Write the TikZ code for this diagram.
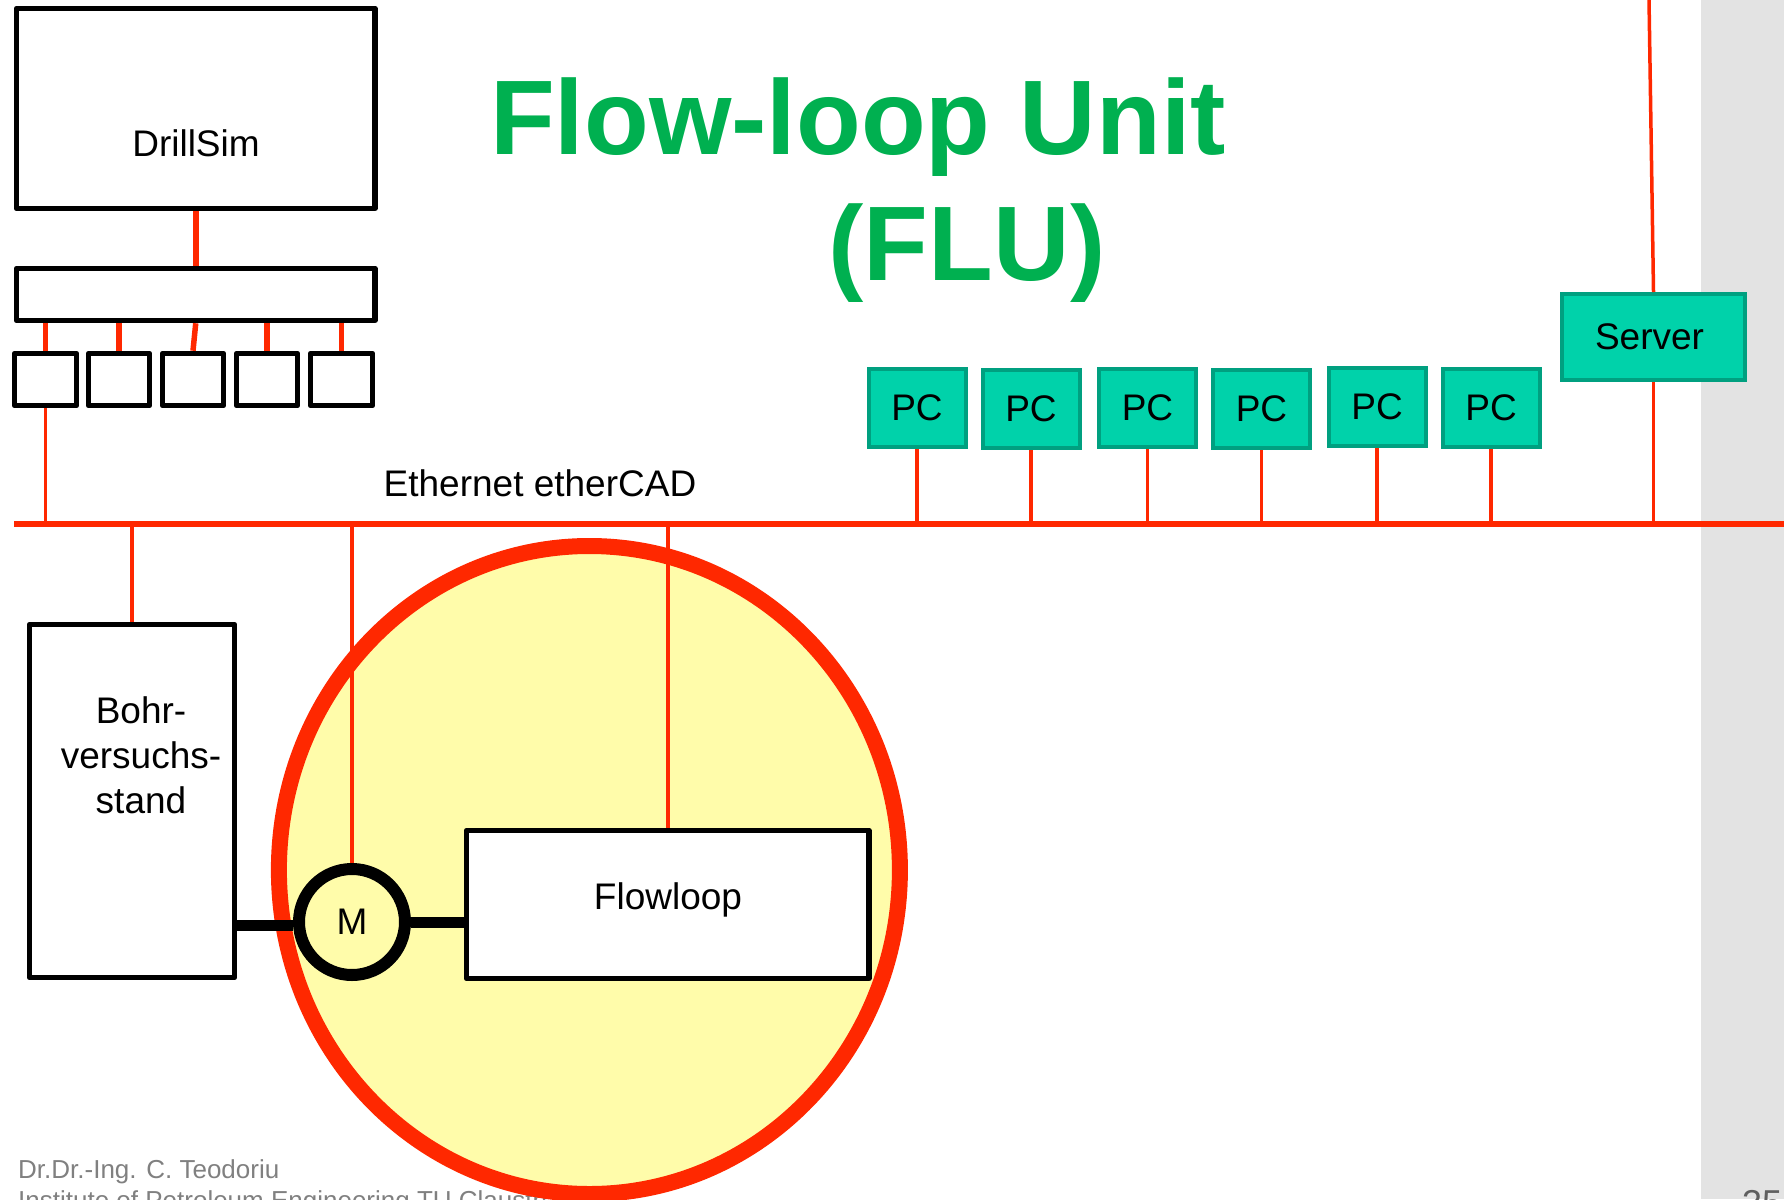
\documentclass[tikz,border=0pt]{standalone}
\usepackage{fontspec}
\setmainfont{Liberation Sans}
\definecolor{netred}{RGB}{255,40,0}
\definecolor{loopyellow}{RGB}{255,252,170}
\definecolor{pcfill}{RGB}{0,210,170}
\definecolor{pcborder}{RGB}{0,160,128}
\definecolor{titlegreen}{RGB}{0,176,80}
\definecolor{bandgray}{RGB}{227,227,227}
\definecolor{footgray}{RGB}{128,128,128}
\definecolor{pagegray}{RGB}{95,95,95}
\begin{document}
\begin{tikzpicture}[x=1pt,y=-1pt,
  lbl/.style={font=\fontsize{37}{45}\selectfont, inner sep=0pt},
  thinred/.style={draw=netred, line width=3.5pt},
  thickred/.style={draw=netred, line width=5.5pt},
  busline/.style={draw=netred, line width=6.5pt},
  blkbox/.style={draw=black, line width=5.5pt, fill=white, rectangle, inner sep=0pt, line join=round},
  smallbox/.style={blkbox, minimum height=52pt},
  pcbox/.style={draw=pcborder, fill=pcfill, line width=4pt, rectangle, inner sep=0pt, minimum width=97pt, minimum height=78pt, font=\fontsize{37}{45}\selectfont},
  blkconn/.style={draw=black, line width=11pt}
]
\useasboundingbox (0,0) rectangle (1784,1199);
% gray band
\fill[bandgray] (1701,0) rectangle (1784,1199);
% footer
\node[anchor=base west, text=footgray, font=\fontsize{26}{31}\selectfont, inner sep=0pt] (foot1) at (18,1178) {Dr.Dr.-Ing. C. Teodoriu};
\node[anchor=base west, text=footgray, font=\fontsize{26}{31}\selectfont, inner sep=0pt] (foot2) at (18,1209) {Institute of Petroleum Engineering TU Clausthal};
\node[anchor=base west, text=pagegray, font=\fontsize{36}{43}\selectfont, inner sep=0pt] (pagenum) at (1742,1215) {35};
% title
\node[anchor=base, text=titlegreen, font=\bfseries\fontsize{106}{127}\selectfont, inner sep=0pt] (title1) at (858,154) {Flow-loop Unit};
\node[anchor=base, text=titlegreen, font=\bfseries\fontsize{106}{127}\selectfont, inner sep=0pt] (title2) at (967,280) {(FLU)};
% big ellipse
\draw[draw=netred, fill=loopyellow, line width=16pt] (589.4,870) ellipse [x radius=310.5, y radius=324];
% bus
\coordinate (busL) at (14,524);
\coordinate (busR) at (1784,524);
\draw[busline] (busL) -- (busR);
% DrillSim and interface
\node[blkbox, minimum width=358.5pt, minimum height=200pt] (drill) at (195.75,108.5) {};
\node[lbl, anchor=base] (drilltxt) at (196,156) {DrillSim};
\node[blkbox, minimum width=358.5pt, minimum height=52pt] (bar) at (195.75,294.5) {};
\node[smallbox, minimum width=62pt] (sb1) at (45.5,379.5) {};
\node[smallbox, minimum width=61pt] (sb2) at (119,379.5) {};
\node[smallbox, minimum width=61pt] (sb3) at (193,379.5) {};
\node[smallbox, minimum width=61pt] (sb4) at (267,379.5) {};
\node[smallbox, minimum width=62pt] (sb5) at (341.5,379.5) {};
\draw[thickred] (drill.south) -- (bar.north);
\draw[thickred] (sb1.north |- bar.south) -- (sb1.north);
\draw[thickred] (sb2.north |- bar.south) -- (sb2.north);
\draw[thickred] (bar.south) -- (sb3.north);
\draw[thickred] (sb4.north |- bar.south) -- (sb4.north);
\draw[thickred] (sb5.north |- bar.south) -- (sb5.north);
\draw[thinred] (sb1.south) -- (sb1.south |- busL);
% Ethernet label
\node[lbl, anchor=base] (eth) at (540,496) {Ethernet etherCAD};
% PCs
\node[pcbox] (pc1) at (917,408) {PC};
\node[pcbox] (pc2) at (1031,409) {PC};
\node[pcbox] (pc3) at (1147.5,408) {PC};
\node[pcbox] (pc4) at (1261.5,409) {PC};
\node[pcbox] (pc5) at (1377,407) {PC};
\node[pcbox] (pc6) at (1491,408) {PC};
\foreach \p in {pc1,pc2,pc3,pc4,pc5,pc6} {
  \draw[thinred] (\p.south) -- (\p.south |- busL);
}
% Server
\coordinate (servtop) at (1649,0);
\node[pcbox, minimum width=183pt, minimum height=86pt] (server) at (1653.5,337) {Server\hspace*{8pt}};
\draw[thinred] (servtop) -- (server.north);
\draw[thinred] (server.south) -- (server.south |- busL);
% Bohrversuchsstand
\node[blkbox, minimum width=205pt, minimum height=353pt] (bohr) at (132,801) {};
\node[lbl, anchor=base, align=center] (bohrtxt) at (141,813) {Bohr-\\versuchs-\\stand};
\draw[thinred] (bohr.north |- busL) -- (bohr.north);
% Flowloop
\node[blkbox, minimum width=402.5pt, minimum height=148pt] (flow) at (667.75,904.5) {};
\node[lbl, anchor=base] (flowtxt) at (668,909) {Flowloop};
\draw[thinred] (flow.north |- busL) -- (flow.north);
% Motor
\node[circle, draw=black, line width=12pt, fill=loopyellow, minimum size=106pt, inner sep=0pt, font=\fontsize{37}{45}\selectfont] (motor) at (352,922) {M};
\draw[thinred] (motor.north |- busL) -- (motor.north);
\draw[blkconn] ([yshift=-3pt]bohr.east |- motor.west) -- ([yshift=-3pt]motor.west);
\draw[blkconn] (motor.east) -- (flow.west |- motor.east);
\end{tikzpicture}
\end{document}
